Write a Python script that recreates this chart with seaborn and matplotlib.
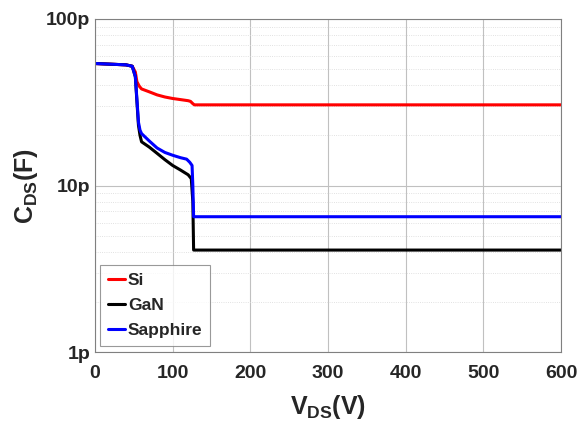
import matplotlib
matplotlib.use("Agg")
import matplotlib.pyplot as plt
import matplotlib.ticker as mticker
import seaborn as sns
import pandas as pd
import numpy as np

# Data (V in volts, C in farads)
si_v = [0, 20, 40, 48, 52, 54, 57, 60, 70, 80, 90, 100, 110, 120, 123, 126, 128, 600]
si_c = [54e-12, 53.5e-12, 53e-12, 52e-12, 48e-12, 42e-12, 39.5e-12, 38e-12, 36.5e-12, 35e-12, 34e-12, 33.3e-12, 32.8e-12, 32.3e-12, 32e-12, 31e-12, 30.5e-12, 30.5e-12]

gan_v = [0, 20, 40, 48, 52, 54, 56, 58, 60, 70, 80, 90, 100, 110, 120, 124, 126, 127, 600]
gan_c = [54e-12, 53.5e-12, 53e-12, 52e-12, 45e-12, 32e-12, 23e-12, 20e-12, 18.3e-12, 17e-12, 15.6e-12, 14.3e-12, 13.2e-12, 12.4e-12, 11.6e-12, 11e-12, 8e-12, 4.1e-12, 4.1e-12]

sap_v = [0, 20, 40, 48, 52, 54, 56, 58, 60, 70, 80, 90, 100, 110, 118, 122, 125, 126, 127, 600]
sap_c = [54e-12, 53.5e-12, 53e-12, 52e-12, 45e-12, 33e-12, 24e-12, 21.5e-12, 20.5e-12, 18.5e-12, 16.8e-12, 15.8e-12, 15.2e-12, 14.7e-12, 14.4e-12, 13.8e-12, 13.2e-12, 10e-12, 6.5e-12, 6.5e-12]

series_names = ["Si", "GaN", "Sapphire"]
colors = ["#ff0000", "#000000", "#0000ff"]
x_ticks = [0, 100, 200, 300, 400, 500, 600]
y_ticks = [1e-12, 1e-11, 1e-10]
y_tick_labels = ["1p", "10p", "100p"]

df = pd.concat([
    pd.DataFrame({"V": si_v, "C": si_c, "series": "Si"}),
    pd.DataFrame({"V": gan_v, "C": gan_c, "series": "GaN"}),
    pd.DataFrame({"V": sap_v, "C": sap_c, "series": "Sapphire"}),
], ignore_index=True)

sns.set_style("white")
plt.rcParams['font.family'] = ['Liberation Sans', 'DejaVu Sans']
plt.rcParams['mathtext.fontset'] = 'custom'
plt.rcParams['mathtext.rm'] = 'Liberation Sans:bold'
plt.rcParams['mathtext.bf'] = 'Liberation Sans:bold'
plt.rcParams['mathtext.it'] = 'Liberation Sans:bold'

fig = plt.figure(figsize=(5.79, 4.30), dpi=100)
ax = fig.add_axes([0.164, 0.181, 0.805, 0.775])

sns.lineplot(data=df, x="V", y="C", hue="series", hue_order=series_names,
             palette=colors, estimator=None, sort=False, linewidth=2.2, ax=ax)

ax.set_yscale("log")
ax.set_xlim(0, 600)
ax.set_ylim(1e-12, 1e-10)
ax.set_xticks(x_ticks)
ax.set_yticks(y_ticks)
ax.set_yticklabels(y_tick_labels)
ax.yaxis.set_minor_locator(mticker.LogLocator(base=10, subs=np.arange(2, 10)))
ax.yaxis.set_minor_formatter(mticker.NullFormatter())

ax.grid(True, which="major", color="#c0c0c0", linewidth=0.8, linestyle="-")
ax.grid(True, which="minor", axis="y", color="#d8d8d8", linewidth=0.6, linestyle=":")
ax.set_axisbelow(True)

for s in ax.spines.values():
    s.set_color("#808080")
    s.set_linewidth(0.8)

ax.tick_params(axis="both", which="major", labelsize=14, length=4, color="#808080", direction="in")
ax.tick_params(axis="x", which="major", pad=9)
ax.tick_params(axis="y", which="minor", length=2, color="#808080", direction="in")
for lab in ax.get_xticklabels() + ax.get_yticklabels():
    lab.set_fontweight("bold")

ax.set_xlabel(r"$\mathrm{V_{DS}}$(V)", fontsize=18, fontweight="bold", labelpad=8)
ax.set_ylabel(r"$\mathrm{C_{DS}}$(F)", fontsize=18, fontweight="bold", labelpad=4)

leg = ax.legend(loc="lower left", prop={"weight": "bold", "size": 12.5},
                handlelength=1.0, handletextpad=0.15, borderpad=0.45,
                labelspacing=0.58, frameon=True, fancybox=False, edgecolor="#808080",
                borderaxespad=0, bbox_to_anchor=(0.011, 0.018))
leg.get_frame().set_linewidth(0.8)

fig.savefig("out.png", dpi=100)
